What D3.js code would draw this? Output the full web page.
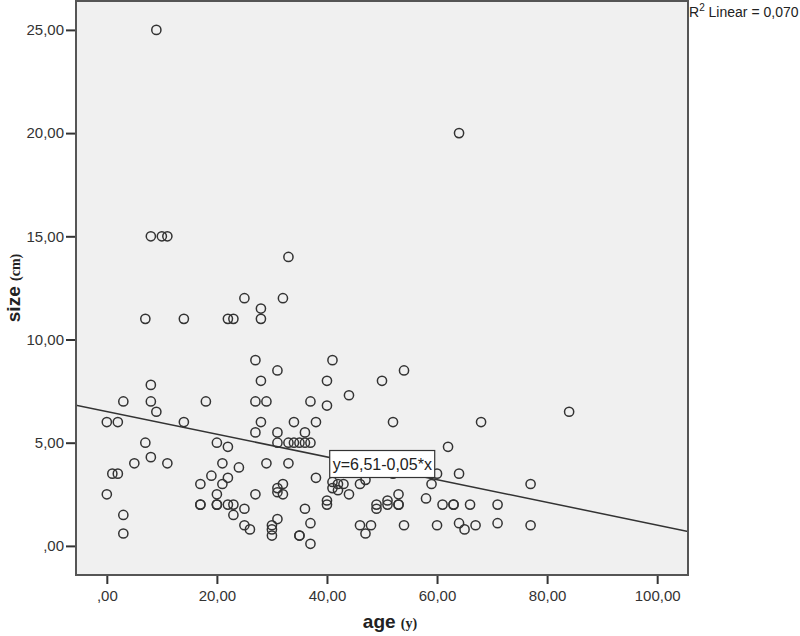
<!DOCTYPE html>
<html>
<head>
	<meta charset='utf-8'>
	<style>
		body { margin: 0; background: #fff; }
		.plot-bg { fill: #f0f0f0; }
		.frame { fill: none; stroke: #555; stroke-width: 2px; }
		.dot { fill: none; stroke: #333; stroke-width: 1.5px; }
		.fit { stroke: #333; stroke-width: 1.5px; }
		.axis text { font-family: 'Liberation Sans', Arial, sans-serif; font-size: 15px; fill: #333; }
		.axis line { stroke: #333; stroke-width: 2px; }
		.axis path { display: none; }
	</style>
</head>
<body>
<script src='https://d3js.org/d3.v7.min.js'></script>
<script>
	'use strict';

	// age (y) / size (cm)
	const ages = [9, 64, 8, 10, 11, 33, 25, 32, 28, 7, 14, 22, 23, 28, 27, 41, 31, 54, 8, 28, 40, 50,
		44, 3, 8, 18, 27, 29, 37, 9, 84, 40,
		0, 2, 14, 28, 34, 38, 52, 68,
		27, 31, 36,
		7, 20, 31, 33, 34, 35, 36, 37,
		22, 62, 8,
		5, 11, 21, 29, 33, 24,
		1, 2, 52, 60, 64,
		19, 22, 38, 47,
		17, 21, 32, 41, 42, 43, 46, 59, 77,
		31, 31, 41, 42,
		0, 20, 27, 32, 44, 53,
		58, 40, 51,
		17, 17, 20, 20, 22, 23, 40, 49, 51, 53, 53, 61, 63, 63, 66, 71,
		25, 36, 49,
		3, 23,
		31, 37, 64, 71,
		25, 30, 46, 48, 54, 60, 67, 77,
		26, 30, 65,
		3, 47,
		30, 35, 35, 37];
	const sizes = [25, 20, 15, 15, 15, 14, 12, 12, 11.5, 11, 11, 11, 11, 11, 9, 9, 8.5, 8.5, 7.8, 8, 8, 8,
		7.3, 7, 7, 7, 7, 7, 7, 6.5, 6.5, 6.8,
		6, 6, 6, 6, 6, 6, 6, 6,
		5.5, 5.5, 5.5,
		5, 5, 5, 5, 5, 5, 5, 5,
		4.8, 4.8, 4.3,
		4, 4, 4, 4, 4, 3.8,
		3.5, 3.5, 3.5, 3.5, 3.5,
		3.4, 3.3, 3.3, 3.2,
		3, 3, 3, 3.1, 3, 3, 3, 3, 3,
		2.8, 2.6, 2.8, 2.7,
		2.5, 2.5, 2.5, 2.5, 2.5, 2.5,
		2.3, 2.2, 2.2,
		2, 2, 2, 2, 2, 2, 2, 2, 2, 2, 2, 2, 2, 2, 2, 2,
		1.8, 1.8, 1.8,
		1.5, 1.5,
		1.3, 1.1, 1.1, 1.1,
		1, 1, 1, 1, 1, 1, 1, 1,
		0.8, 0.8, 0.8,
		0.6, 0.6,
		0.5, 0.5, 0.5, 0.1];

	const xTicks = [0, 20, 40, 60, 80, 100];
	const yTicks = [0, 5, 10, 15, 20, 25];

	// линия регрессии
	const intercept = 6.51;
	const slope = -0.055;
	const fitLabel = 'y=6,51-0,05*x';
	const r2Label = ' Linear = 0,070';

	const width = 800;
	const height = 636;
	const plot = {left: 76, top: 1, right: 688, bottom: 575};

	const xScale = d3.scaleLinear().domain([-5.6, 105.6]).range([plot.left, plot.right]);
	const yScale = d3.scaleLinear().domain([-1.41, 26.4]).range([plot.bottom, plot.top]);

	const fmt = function(v) {
		const s = d3.format('.2f')(v).replace('.', ',');
		return v === 0 ? s.slice(1) : s;
	};

	const svg = d3.select('body').append('svg')
		.attr('width', width)
		.attr('height', height);

	svg.append('rect')
		.attr('class', 'plot-bg')
		.attr('x', plot.left)
		.attr('y', plot.top)
		.attr('width', plot.right - plot.left)
		.attr('height', plot.bottom - plot.top);

	svg.append('g')
		.attr('class', 'axis')
		.attr('transform', 'translate(' + plot.left + ',0)')
		.call(d3.axisLeft(yScale).tickValues(yTicks).tickFormat(fmt).tickSize(10).tickPadding(2));

	svg.append('g')
		.attr('class', 'axis')
		.attr('transform', 'translate(0,' + plot.bottom + ')')
		.call(d3.axisBottom(xScale).tickValues(xTicks).tickFormat(fmt).tickSize(9).tickPadding(6));

	svg.append('clipPath').attr('id', 'clip')
		.append('rect')
		.attr('x', plot.left)
		.attr('y', plot.top)
		.attr('width', plot.right - plot.left)
		.attr('height', plot.bottom - plot.top);

	const x0 = xScale.domain()[0];
	const x1 = xScale.domain()[1];
	svg.append('line')
		.attr('class', 'fit')
		.attr('clip-path', 'url(#clip)')
		.attr('x1', xScale(x0))
		.attr('y1', yScale(intercept + slope * x0))
		.attr('x2', xScale(x1))
		.attr('y2', yScale(intercept + slope * x1));

	svg.append('g')
		.attr('clip-path', 'url(#clip)')
		.selectAll('.dot')
		.data(d3.range(ages.length))
		.enter()
		.append('circle')
		.attr('class', 'dot')
		.attr('r', 4.6)
		.attr('cx', function(i) {return xScale(ages[i]);})
		.attr('cy', function(i) {return yScale(sizes[i]);});

	// подпись уравнения
	const lx = 40.5;
	const boxX = xScale(lx);
	const boxY = yScale(intercept + slope * lx) - 7;
	svg.append('rect')
		.attr('x', boxX)
		.attr('y', boxY)
		.attr('width', 105)
		.attr('height', 27)
		.attr('fill', '#fff')
		.attr('stroke', '#333')
		.attr('stroke-width', 1.2);
	svg.append('text')
		.attr('x', boxX + 3)
		.attr('y', boxY + 19)
		.style('font-family', "'Liberation Sans', Arial, sans-serif")
		.style('font-size', '16px')
		.style('fill', '#222')
		.text(fitLabel);

	svg.append('rect')
		.attr('class', 'frame')
		.attr('x', plot.left)
		.attr('y', plot.top)
		.attr('width', plot.right - plot.left)
		.attr('height', plot.bottom - plot.top);

	// R2
	const r2 = svg.append('text')
		.attr('x', plot.right + 1)
		.attr('y', 17)
		.style('font-family', "'Liberation Sans', Arial, sans-serif")
		.style('font-size', '14px')
		.style('fill', '#222');
	r2.append('tspan').text('R');
	r2.append('tspan').attr('dy', -6).style('font-size', '10px').text('2');
	r2.append('tspan').attr('dy', 6).text(r2Label);

	// подписи осей
	const xl = svg.append('text')
		.attr('x', 390)
		.attr('y', 628)
		.attr('text-anchor', 'middle')
		.style('font-weight', 'bold')
		.style('fill', '#222');
	xl.append('tspan').style('font-family', "'Liberation Sans', Arial, sans-serif").style('font-size', '19px').text('age ');
	xl.append('tspan').style('font-family', "'Liberation Serif', serif").style('font-size', '14px').text('(y)');

	const yl = svg.append('text')
		.attr('transform', 'translate(20,' + ((plot.top + plot.bottom) / 2) + ') rotate(-90)')
		.attr('text-anchor', 'middle')
		.style('font-weight', 'bold')
		.style('fill', '#222');
	yl.append('tspan').style('font-family', "'Liberation Sans', Arial, sans-serif").style('font-size', '19px').text('size ');
	yl.append('tspan').style('font-family', "'Liberation Serif', serif").style('font-size', '14px').text('(cm)');
</script>
</body>
</html>
